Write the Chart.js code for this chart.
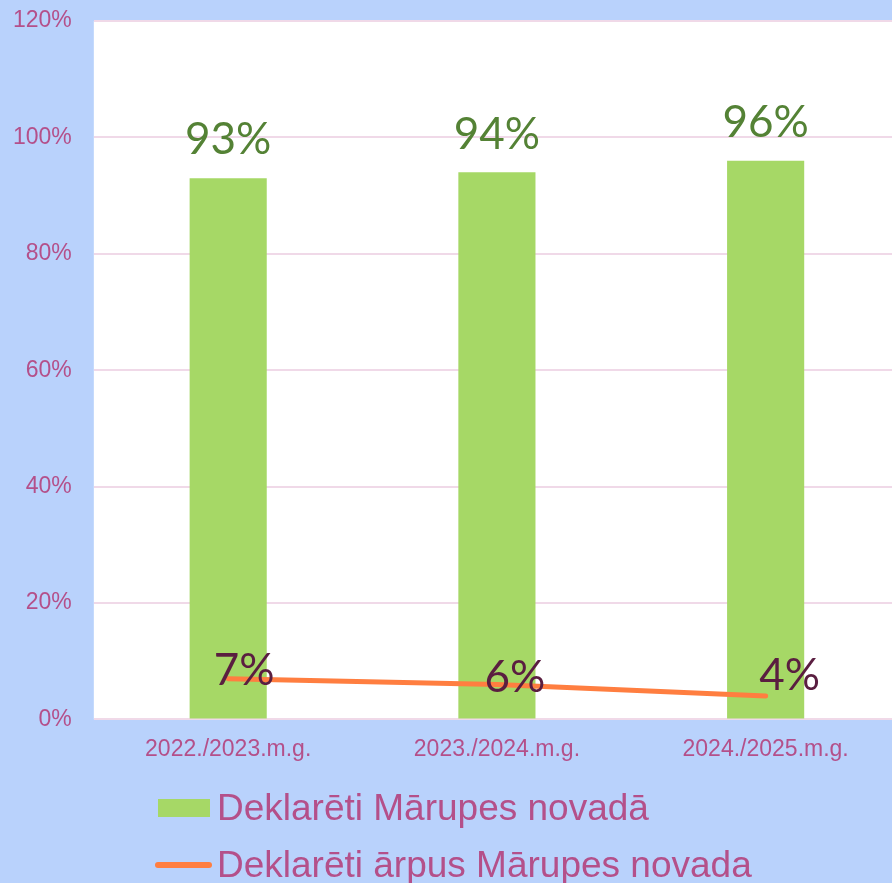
<!DOCTYPE html>
<html>
<head>
<meta charset="utf-8">
<script src="https://cdn.jsdelivr.net/npm/chart.js@4/dist/chart.umd.min.js"></script>
<style>
html,body{margin:0;padding:0;background:#B9D2FC;overflow:hidden;width:892px;height:883px;}
#wrap{position:absolute;left:0;top:0;width:900px;height:883px;}
.leg{position:absolute;left:217px;font-family:"Liberation Sans",Arial,sans-serif;font-size:37px;color:#B4508A;line-height:40px;white-space:nowrap;}
</style>
</head>
<body>
<div id="wrap"><canvas id="c" width="900" height="883"></canvas></div>
<div style="position:absolute;left:158px;top:799px;width:52px;height:18px;background:#A6D866;"></div>
<div class="leg" style="top:788px;">Deklarēti Mārupes novadā</div>
<div style="position:absolute;left:155px;top:862px;width:57px;height:6px;border-radius:3px;background:#FF7E40;"></div>
<div class="leg" style="top:845px;">Deklarēti ārpus Mārupes novada</div>
<script>
const categories = ["2022./2023.m.g.", "2023./2024.m.g.", "2024./2025.m.g."];
const insideValues = [93, 94, 96];
const outsideValues = [7, 6, 4];
const seriesNames = ["Deklarēti Mārupes novadā", "Deklarēti ārpus Mārupes novada"];

const plotBg = {
  id: 'plotBg',
  beforeDraw(chart) {
    const {ctx, chartArea: a} = chart;
    ctx.save();
    ctx.fillStyle = '#FFFFFF';
    ctx.fillRect(a.left, a.top, a.right - a.left, a.bottom - a.top);
    ctx.restore();
  }
};

const valueLabels = {
  id: 'valueLabels',
  afterDatasetsDraw(chart, args, opts) {
    const ctx = chart.ctx;
    ctx.save();
    ctx.textAlign = 'center';
    ctx.textBaseline = 'middle';
    const barMeta = chart.getDatasetMeta(1);
    ctx.font = '400 44px Lato, "Open Sans", sans-serif';
    ctx.fillStyle = '#548235';
    barMeta.data.forEach((el, i) => {
      ctx.fillText(insideValues[i] + '%', el.x, el.y - 38);
    });
    const lineMeta = chart.getDatasetMeta(0);
    ctx.fillStyle = '#5A1E40';
    lineMeta.data.forEach((el, i) => {
      const o = opts.lineOffsets[i];
      ctx.fillText(outsideValues[i] + '%', el.x + o[0], el.y + o[1]);
    });
    ctx.restore();
  }
};

new Chart(document.getElementById('c'), {
  data: {
    labels: categories,
    datasets: [
      {
        type: 'line',
        label: seriesNames[1],
        data: outsideValues,
        borderColor: '#FF7E40',
        backgroundColor: '#FF7E40',
        borderWidth: 5,
        borderCapStyle: 'round',
        pointRadius: 0,
        tension: 0,
        order: 0
      },
      {
        type: 'bar',
        label: seriesNames[0],
        data: insideValues,
        backgroundColor: '#A6D866',
        barPercentage: 0.287,
        categoryPercentage: 1,
        order: 1
      }
    ]
  },
  options: {
    responsive: false,
    animation: false,
    layout: { padding: { left: -9, top: 21, right: 0, bottom: 104 } },
    plugins: {
      legend: { display: false },
      tooltip: { enabled: false },
      valueLabels: { lineOffsets: [[16, -8], [18, -7], [24, -20]] }
    },
    scales: {
      x: {
        grid: { display: false, drawTicks: false },
        border: { display: false },
        ticks: {
          color: '#B4508A',
          font: { family: '"Liberation Sans", Arial, sans-serif', size: 23 },
          padding: 16,
          maxRotation: 0
        }
      },
      y: {
        min: 0, max: 120,
        grid: { color: '#F0D9E8', lineWidth: 2, drawTicks: false },
        border: { display: false },
        afterFit: s => { s.paddingTop = 0; s.paddingBottom = 0; },
        ticks: {
          stepSize: 20,
          color: '#B4508A',
          font: { family: '"Liberation Sans", Arial, sans-serif', size: 23 },
          padding: 22,
          callback: v => v + '%'
        }
      }
    }
  },
  plugins: [plotBg, valueLabels]
});
</script>
</body>
</html>
